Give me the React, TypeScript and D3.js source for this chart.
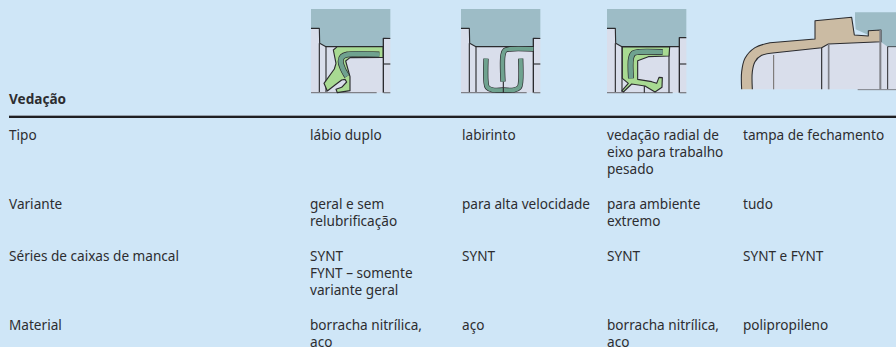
import React from "react";
import * as d3 from "d3";

const W = 896, H = 347;
const FONT = "'Noto Sans', sans-serif";
const header = "Vedação";
const rowLabels = ["Tipo", "Variante", "Séries de caixas de mancal", "Material"];
const colX = [310, 462, 607, 743];
const tipo = [["lábio duplo"], ["labirinto"], ["vedação radial de", "eixo para trabalho", "pesado"], ["tampa de fechamento"]];
const variante = [["geral e sem", "relubrificação"], ["para alta velocidade"], ["para ambiente", "extremo"], ["tudo"]];
const series = [["SYNT", "FYNT – somente", "variante geral"], ["SYNT"], ["SYNT"], ["SYNT e FYNT"]];
const material = [["borracha nitrílica,", "aço"], ["aço"], ["borracha nitrílica,", "aço"], ["polipropileno"]];
const rows = [tipo, variante, series, material];
const rowBaselines = [140, 209, 261, 330];

type P = [number, number];
const C = { blue: "#9dbcc6", metal: "#d9deeb", dark: "#2b2b2e", grey: "#7f8087", green: "#a8da92", teal: "#6fa28f", beige: "#cbbba3" };

const lin = d3.line<P>();
const cur = d3.line<P>().curve(d3.curveCatmullRom.alpha(0.5));

function Shape({ pts, fill = "none", stroke = C.dark, w = 1, smooth = false, close = true }: any) {
  const d = (smooth ? cur : lin)(pts) + (close ? "Z" : "");
  return <path d={d} fill={fill} stroke={stroke} strokeWidth={w} strokeLinejoin="round" />;
}
function Tube({ pts, w = 12 }: { pts: P[]; w?: number }) {
  const d = cur(pts)!;
  return (
    <g fill="none">
      <path d={d} stroke={C.dark} strokeWidth={w + 4} />
      <path d={d} stroke={C.teal} strokeWidth={w} />
    </g>
  );
}

function Base({ right, topR, left }: { right: number; topR: number; left: number }) {
  return (
    <g>
      <Shape pts={[[left + 25, 130], [right, 130], [right, 278], [left + 25, 278]]} fill={C.metal} stroke="none" />
      <Shape pts={[[left, 85], [left + 25, 85], [left + 25, 278], [left, 278]]} fill={C.metal} stroke="none" />
      <Shape pts={[[right, topR], [right + 21, topR], [right + 21, 278], [right, 278]]} fill={C.metal} stroke="none" />
      <Shape pts={[[left, 27], [right + 21, 27], [right + 21, topR - 3], [right, topR], [right, 140], [left + 45, 140], [left + 27, 130], [left + 25, 85], [left, 85]]} fill={C.blue} stroke="none" />
      <Shape close={false} pts={[[left, 85], [left + 25, 85], [left + 26, 130], [left + 45, 140], [right, 140]]} w={3.4} />
      <Shape close={false} pts={[[left + 25, 130], [left + 25, 278]]} w={3.4} />
      <Shape close={false} pts={[[left + 45, 140], [left + 45, 278]]} w={3.4} />
      <Shape close={false} pts={[[right, 278], [right, topR], [right + 21, topR]]} w={4} />
      <Shape close={false} pts={[[right, 192], [right + 21, 192]]} w={3.4} />
      <Shape close={false} pts={[[left, 278], [right - 20, 278]]} stroke={C.grey} w={4} />
      <Shape close={false} pts={[[right + 1, 278], [right + 21, 278]]} stroke={C.grey} w={4} />
    </g>
  );
}

function Diagram({ ox, children }: { ox: number; children: React.ReactNode }) {
  return <g transform={`translate(${ox},0) scale(${1 / 3})`}>{children}</g>;
}

const lipOutline: P[] = [[100, 150], [112, 140], [249, 140], [249, 172], [150, 173], [137, 183], [150, 230], [150, 272], [112, 278], [108, 268], [125, 262], [140, 246], [135, 238], [125, 240], [105, 255], [82, 273], [72, 250], [103, 207], [108, 190]];
const lipCore: P[] = [[238, 163.5], [142, 163.5], [127, 170], [122, 184], [128, 205], [141, 229]];

const labA: P[] = [[108, 176], [108, 245], [112, 262], [128, 270], [160, 270]];
const labB: P[] = [[212, 176], [212, 245], [208, 262], [192, 270], [160, 270]];
const labC: P[] = [[250, 147], [180, 147], [165, 151], [159, 165], [159, 245]];

const radial: P[] = [[82, 141], [224, 141], [222, 168], [160, 170], [128, 182], [128, 238], [170, 245], [185, 250], [192, 232], [202, 233], [201, 262], [180, 276], [150, 258], [110, 252], [85, 276], [81, 272], [100, 250], [82, 235]];
const radialCore: P[] = [[203, 156], [130, 156], [115, 160], [108, 175], [108, 235]];

const capBlue: P[] = [[360, 37], [483, 37], [483, 140], [458, 140], [437, 125], [437, 92], [400, 92], [400, 105], [362, 88], [360, 60]];
const capOuter: P[] = [[20, 268], [20, 215], [30, 175], [60, 143], [105, 128]];
const capInner: P[] = [[120, 158], [80, 166], [60, 185], [52, 215], [52, 268]];
const capTop: P[] = [[105, 128], [240, 117], [240, 62], [350, 52], [358, 105], [400, 108], [400, 92], [438, 90], [438, 125], [280, 132], [260, 143], [120, 158]];
const capMetal: P[] = [[52, 268], [52, 215], [60, 185], [80, 166], [120, 158], [260, 143], [280, 132], [438, 125], [458, 140], [483, 140], [483, 268]];

export default function App() {
  const capFill = cur(capOuter)! + "L" + lin(capTop)!.slice(1) + "L" + cur(capInner)!.slice(1);
  return (
    <svg width={W} height={H} viewBox={`0 0 ${W} ${H}`} style={{ position: "fixed", left: 0, top: 0, display: "block" }}>
      <rect width={W} height={H} fill="#cfe6f7" />

      <Diagram ox={300}>
        <Base left={33} right={250} topR={115} />
        <Shape pts={lipOutline} fill={C.green} w={3.4} />
        <Tube pts={lipCore} w={14} />
      </Diagram>

      <Diagram ox={450}>
        <Base left={33} right={250} topR={115} />
        <Tube pts={labA} w={12} />
        <Tube pts={labB} w={12} />
        <Tube pts={labC} w={12} />
        <Shape close={false} pts={[[160, 245], [160, 278]]} w={3.4} />
      </Diagram>

      <Diagram ox={595}>
        <Base left={36} right={253} topR={113} />
        <Shape close={false} pts={[[222, 140], [222, 278]]} w={3.4} />
        <Shape close={false} pts={[[148, 258], [148, 278]]} w={3.4} />
        <Shape pts={radial} fill={C.green} w={3.4} />
        <Tube pts={radialCore} w={14} />
      </Diagram>

      <Diagram ox={735}>
        <Shape pts={capMetal} fill={C.metal} stroke="none" />
        <Shape pts={capBlue} fill={C.blue} stroke="none" />
        <path d={capFill} fill={C.beige} stroke={C.dark} strokeWidth={3.2} strokeLinejoin="round" />
        <Shape close={false} pts={[[116, 165], [116, 268]]} stroke="#6f6a66" w={3} />
        <Shape close={false} pts={[[260, 143], [260, 268]]} w={3.4} />
        <Shape close={false} pts={[[281, 132], [281, 268]]} stroke={C.grey} w={5} />
        <Shape close={false} pts={[[436, 90], [436, 268]]} stroke={C.grey} w={6} />
        <Shape close={false} pts={[[458, 140], [458, 268]]} w={3} />
        <Shape close={false} pts={[[458, 140], [483, 140]]} w={2.4} />
        <Shape close={false} pts={[[368, 269], [483, 269]]} stroke={C.grey} w={3} />
      </Diagram>

      <g fontFamily={FONT} fontSize={13.6} fill="#2d2d30">
        <text x={9} y={104} fontWeight={700}>{header}</text>
        {rowLabels.map((l, i) => <text key={l} x={9} y={rowBaselines[i]}>{l}</text>)}
        {rows.map((r, i) => r.map((cell, c) => cell.map((line, k) => (
          <text key={`${i}-${c}-${k}`} x={colX[c]} y={rowBaselines[i] + k * 17}>{line}</text>
        ))))}
      </g>
      <line x1={9} x2={W} y1={115.6} y2={115.6} stroke="#8f99a3" strokeWidth={1} />
      <line x1={9} x2={W} y1={117} y2={117} stroke="#1f1f22" strokeWidth={2} />
    </svg>
  );
}
